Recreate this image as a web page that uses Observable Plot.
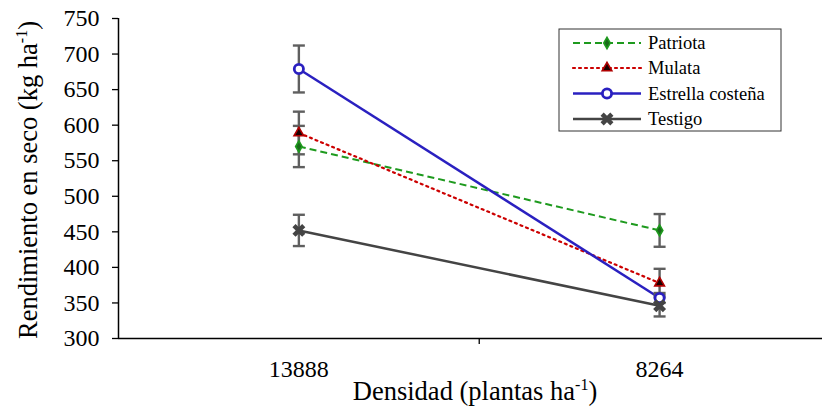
<!DOCTYPE html>
<html>
<head>
<meta charset="utf-8">
<script src="https://cdn.jsdelivr.net/npm/d3@7"></script>
<script src="https://cdn.jsdelivr.net/npm/@observablehq/plot@0.6"></script>
<style>
  html, body { margin: 0; padding: 0; background: #fff; overflow: hidden; }
  #chart { position: relative; width: 822px; height: 408px; }
  #chart svg text { font-family: "Liberation Serif", "Times New Roman", serif; }
</style>
</head>
<body>
<div id="chart"></div>
<script>
// ---- data ----
const densidades = ["13888", "8264"];
const series = ["Patriota", "Mulata", "Estrella costeña", "Testigo"];
const patriota = [570, 452];
const patriotaErr = [29, 23];
const mulata = [589, 378];
const mulataErr = [30, 20];
const estrella = [679, 357];
const estrellaErr = [33, 7];
const testigo = [452, 346];
const testigoErr = [22, 15];
const yTicks = [300, 350, 400, 450, 500, 550, 600, 650, 700, 750];

// ---- styles ----
const styles = {
  "Patriota":         {color: "#1e9a1e", dash: "7,4", width: 2, symbol: "diamond", r: 3.4, fill: "#1a6a1a", mstroke: "#1e9a1e"},
  "Mulata":           {color: "#cc0000", dash: "2,4", width: 2.2, symbol: "triangle", r: 3.6, fill: "#1a0000", mstroke: "#b00000"},
  "Estrella costeña": {color: "#2a20c0", dash: null, width: 2.5, symbol: "circle", r: 4.6, fill: "#ffffff", mstroke: "#2a20c0"},
  "Testigo":          {color: "#444444", dash: null, width: 2.5, symbol: "times", r: 4.5, fill: "none", mstroke: "#444444"}
};
const values = {"Patriota": patriota, "Mulata": mulata, "Estrella costeña": estrella, "Testigo": testigo};
const errs = {"Patriota": patriotaErr, "Mulata": mulataErr, "Estrella costeña": estrellaErr, "Testigo": testigoErr};

const rows = [];
for (const s of series) {
  densidades.forEach((d, i) => {
    rows.push({serie: s, dens: d, xi: i + 0.5, y: values[s][i], lo: values[s][i] - errs[s][i], hi: values[s][i] + errs[s][i]});
  });
}
const bySerie = s => rows.filter(r => r.serie === s);

// horizontal cap symbol for error bars
const capSymbol = {
  draw(context, size) {
    const r = Math.sqrt(size / Math.PI);
    context.moveTo(-r, 0);
    context.lineTo(r, 0);
  }
};

const marks = [];
for (const s of series) {
  const st = styles[s];
  marks.push(Plot.line(bySerie(s), {x: "xi", y: "y", stroke: st.color, strokeWidth: st.width,
    strokeDasharray: st.dash || undefined, strokeLinecap: st.dash === "2,4" ? "round" : "butt"}));
}
marks.push(Plot.ruleX(rows, {x: "xi", y1: "lo", y2: "hi", stroke: "#5f5f5f", strokeWidth: 2.4}));
marks.push(Plot.dot(rows, {x: "xi", y: "lo", symbol: capSymbol, r: 6, stroke: "#5f5f5f", strokeWidth: 2.4, fill: "none"}));
marks.push(Plot.dot(rows, {x: "xi", y: "hi", symbol: capSymbol, r: 6, stroke: "#5f5f5f", strokeWidth: 2.4, fill: "none"}));
for (const s of series) {
  const st = styles[s];
  if (s === "Testigo") {
    marks.push(Plot.dot(bySerie(s), {x: "xi", y: "y", symbol: "times", r: st.r, stroke: st.mstroke, strokeWidth: 4.5}));
  } else if (s === "Estrella costeña") {
    marks.push(Plot.dot(bySerie(s), {x: "xi", y: "y", symbol: "circle", r: st.r, fill: "#fff", stroke: st.mstroke, strokeWidth: 2.8}));
  } else {
    marks.push(Plot.dot(bySerie(s), {x: "xi", y: "y", symbol: st.symbol, r: st.r, fill: st.fill, stroke: st.mstroke, strokeWidth: 1.6}));
  }
}

const font = "Liberation Serif, Times New Roman, serif";

const plot = Plot.plot({
  width: 822,
  height: 408,
  marginLeft: 118,
  marginRight: 0,
  marginTop: 18,
  marginBottom: 70,
  style: {fontFamily: font, fontSize: "24px", color: "#000", background: "#fff"},
  x: {type: "linear", domain: [0, 1.9516]},
  y: {domain: [300, 750]},
  marks: [
    ...marks,
    Plot.axisY({ticks: yTicks, tickSize: 6, tickPadding: 13, tickFormat: d => String(d), label: null, fontSize: 24, stroke: "#000", strokeWidth: 1.3}),
    Plot.axisX({ticks: [0.5, 1.5], tickSize: 0, tickPadding: 21, tickFormat: d => densidades[Math.round(d - 0.5)], label: null, fontSize: 24}),
    Plot.axisX({ticks: [1], tickSize: 6, tickFormat: () => "", label: null, stroke: "#000", strokeWidth: 1.3}),
    Plot.ruleY([300], {stroke: "#000", strokeWidth: 1.5}),
    Plot.ruleX([0], {stroke: "#000", strokeWidth: 1.5})
  ]
});
document.getElementById("chart").appendChild(plot);

// ---- titles and legend (added to the SVG) ----
const svg = d3.select(plot);

const xt = svg.append("text").attr("x", 475).attr("y", 400).attr("text-anchor", "middle")
  .style("font-family", font).style("font-size", "26.5px").attr("fill", "#000");
xt.append("tspan").text("Densidad (plantas ha");
xt.append("tspan").attr("dy", -10).style("font-size", "16px").text("-1");
xt.append("tspan").attr("dy", 10).text(")");

const yt = svg.append("text").attr("transform", "translate(37,180) rotate(-90)").attr("text-anchor", "middle")
  .style("font-family", font).style("font-size", "26.5px").attr("fill", "#000");
yt.append("tspan").text("Rendimiento en seco (kg ha");
yt.append("tspan").attr("dy", -10).style("font-size", "16px").text("-1");
yt.append("tspan").attr("dy", 10).text(")");

const lg = svg.append("g");
lg.append("rect").attr("x", 559).attr("y", 29).attr("width", 222).attr("height", 102)
  .attr("fill", "#fff").attr("stroke", "#333").attr("stroke-width", 1);
const legendY = [43, 68, 93.5, 119];
series.forEach((s, i) => {
  const st = styles[s];
  const y = legendY[i];
  lg.append("line").attr("x1", 573).attr("x2", 641).attr("y1", y).attr("y2", y)
    .attr("stroke", st.color).attr("stroke-width", st.width)
    .attr("stroke-dasharray", st.dash).attr("stroke-linecap", st.dash === "2,4" ? "round" : "butt");
  const sym = s === "Testigo" ? d3.symbolTimes : s === "Estrella costeña" ? d3.symbolCircle : s === "Mulata" ? d3.symbolTriangle : d3.symbolDiamond;
  const path = lg.append("path").attr("transform", `translate(607,${y})`)
    .attr("d", d3.symbol(sym, Math.PI * st.r * st.r)());
  if (s === "Testigo") path.attr("fill", "none").attr("stroke", st.mstroke).attr("stroke-width", 4.5);
  else if (s === "Estrella costeña") path.attr("fill", "#fff").attr("stroke", st.mstroke).attr("stroke-width", 2.8);
  else path.attr("fill", st.fill).attr("stroke", st.mstroke).attr("stroke-width", 1.6);
  lg.append("text").attr("x", 648).attr("y", y).attr("dy", "0.35em").attr("text-anchor", "start")
    .style("font-family", font).style("font-size", "18.5px").attr("fill", "#000").text(s);
});
</script>
</body>
</html>
